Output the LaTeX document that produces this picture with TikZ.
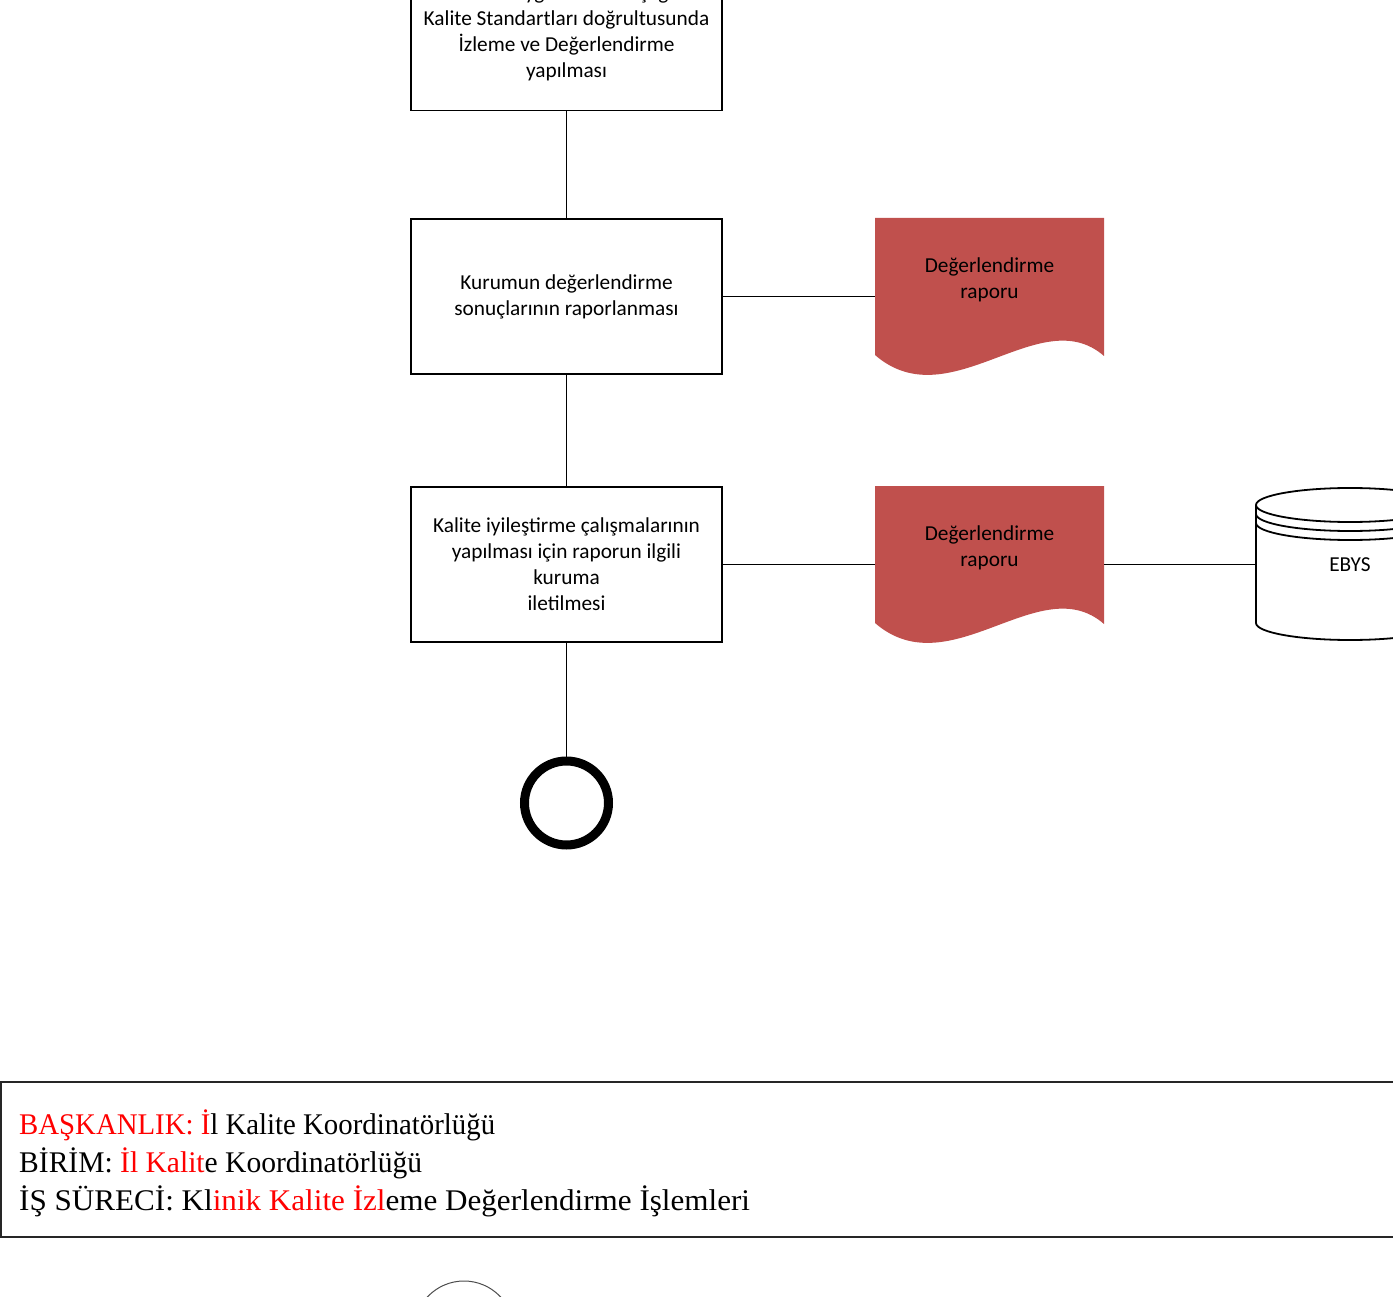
\documentclass[tikz,border=0pt]{standalone}
\usepackage{fontspec}
\setmainfont{Liberation Serif}
\newfontfamily\kutufont{Carlito}
\usetikzlibrary{shapes.geometric,calc}
\definecolor{raporkirmizi}{HTML}{C0504D}

\tikzset{
	surec/.style={draw, line width=1.8pt, minimum width=311pt, minimum height=155pt, inner sep=0pt, align=center, font=\kutufont\fontsize{21.3}{26}\selectfont},
	belge/.style={minimum width=229pt, minimum height=157pt, inner sep=0pt, outer sep=0pt},
	belgeyazi/.style={align=center, font=\kutufont\fontsize{21.3}{26.5}\selectfont},
	hat/.style={line width=1.8pt},
	bilgi/.style={anchor=base west, inner sep=0pt, font=\fontsize{30}{38}\selectfont}
}

\begin{document}
\begin{tikzpicture}[x=1pt,y=-1pt]
		\useasboundingbox (0,0) rectangle (1393,1297);
		\clip (0,0) rectangle (1393,1297);
		
		% surec kutulari
		\node[surec] (izleme) at (566.5,33) {Takvime uygun olarak aşağıda\\Kalite Standartları doğrultusunda\\İzleme ve Değerlendirme\\yapılması};
		\node[surec] (rapor) at (566.5,296.5) {Kurumun değerlendirme\\sonuçlarının raporlanması};
		\node[surec] (iletim) at (566.5,564.5) {Kalite iyileştirme çalışmalarının\\yapılması için raporun ilgili\\kuruma\\iletilmesi};
		\node[circle, draw, line width=9pt, minimum size=84pt, inner sep=0pt] (son) at (566.5,803) {};
		
		% belgeler
		\node[belge] (rapor1) at (989.5,296.5) {};
		\node[belge] (rapor2) at (989.5,564.5) {};
		\fill[raporkirmizi] (rapor1.north west) -- (rapor1.north east) -- (1104,356) .. controls (1040,300) and (950,420) .. (875,355) -- cycle;
		\fill[raporkirmizi] (rapor2.north west) -- (rapor2.north east) -- (1104,624) .. controls (1040,568) and (950,688) .. (875,623) -- cycle;
		\node[belgeyazi] (rapor1yazi) at (989.5,280) {Değerlendirme\\raporu};
		\node[belgeyazi] (rapor2yazi) at (989.5,548) {Değerlendirme\\raporu};
		
		% EBYS
		\node[minimum width=188pt, minimum height=150pt, inner sep=0pt, outer sep=0pt, font=\kutufont\fontsize{21.3}{26}\selectfont] (ebys) at (1350,564.5) {EBYS};
		\draw[hat] (1256,505) -- (1256,623) arc[start angle=180, end angle=360, x radius=94pt, y radius=17pt] -- (1444,505);
		\draw[hat] (1350,505) ellipse [x radius=94pt, y radius=17pt];
		\draw[hat] (1256,514) arc[start angle=180, end angle=360, x radius=94pt, y radius=17pt];
		\draw[hat] (1256,523) arc[start angle=180, end angle=360, x radius=94pt, y radius=17pt];
		
		% baglantilar
		\draw[hat] (izleme) -- (rapor);
		\draw[hat] (rapor) -- (iletim);
		\draw[hat] (iletim) -- (son);
		\draw[hat] (rapor.east) -- (rapor1.west);
		\draw[hat] (iletim.east) -- (rapor2.west);
		\draw[hat] (rapor2.east) -- (ebys.west);
		
		% alt bilgi
		\draw[line width=2pt, color=black!85] (1,1082) rectangle (1400,1237);
		\node[bilgi] (baskanlik) at (19,1134) {\scalebox{0.96}[1]{\textcolor{red}{BAŞKANLIK: İ}l Kalite Koordinatörlüğü}};
		\node[bilgi] (birim) at (19,1172) {\scalebox{0.985}[1]{BİRİM: \textcolor{red}{İl Kalit}e Koordinatörlüğü}};
		\node[bilgi] (isureci) at (19,1210) {\scalebox{1.037}[1]{İŞ SÜRECİ: Kl\textcolor{red}{inik Kalite İzl}eme Değerlendirme İşlemleri}};
		
		\draw[line width=1pt, color=black!70] (464,1331) circle[radius=50pt];
		
		\end{tikzpicture}
\end{document}
